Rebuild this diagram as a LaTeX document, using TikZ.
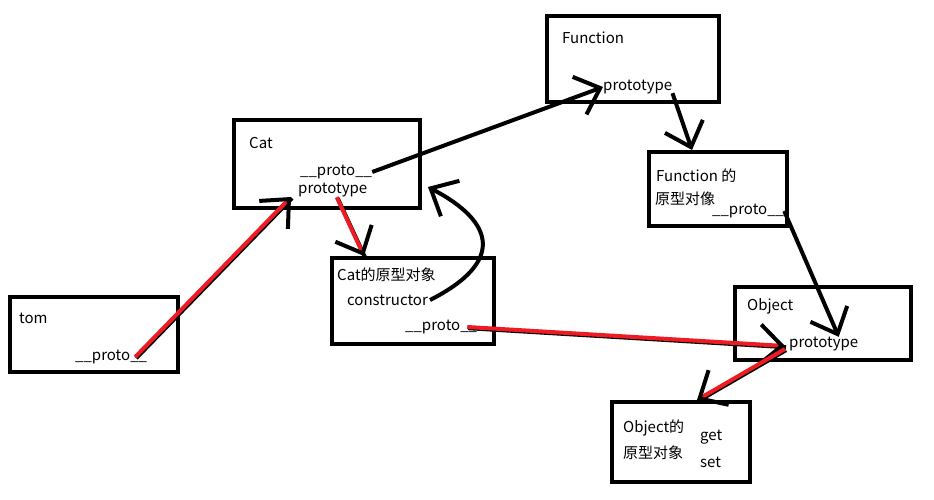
\documentclass[tikz,border=0pt]{standalone}
\usepackage{fontspec}
\setmainfont{Noto Sans CJK SC}
\usetikzlibrary{arrows.meta,positioning,calc}
\definecolor{paintred}{RGB}{237,28,36}
\begin{document}
\begin{tikzpicture}[x=1pt,y=-1pt,
box/.style={draw=black,line width=4pt,inner sep=0pt},
lbl/.style={anchor=west,inner sep=0pt,font=\fontsize{15}{17}\selectfont},
link/.style={line width=4pt,-{Straight Barb[length=22pt,width=40pt,line width=4pt,color=black]}},
redlink/.style={link,draw=paintred,preaction={draw=black,-,line width=4pt,transform canvas={xshift=1pt,yshift=-1.2pt}}}]
\useasboundingbox[fill=white] (0,0) rectangle (934,500);
% boxes
\node[box,minimum width=168pt,minimum height=75pt] (tombox) at (94,334.5) {};
\node[box,minimum width=186pt,minimum height=88pt] (catbox) at (327,164) {};
\node[box,minimum width=162pt,minimum height=86pt] (cpbox) at (413,301) {};
\node[box,minimum width=172pt,minimum height=86pt] (fnbox) at (633,59) {};
\node[box,minimum width=138pt,minimum height=74pt] (fpbox) at (718,189) {};
\node[box,minimum width=176pt,minimum height=73pt] (objbox) at (823,323.5) {};
\node[box,minimum width=138pt,minimum height=80pt] (opbox) at (681,442) {};
% texts
\node[lbl] (tomname) at (19,318) {tom};
\node[lbl] (tomproto) at (75,357) {\_\_proto\_\_};
\node[lbl] (catname) at (249,143) {Cat};
\node[lbl] (catproto) at (300,172) {\_\_proto\_\_};
\node[lbl] (catprototype) at (298,190) {prototype};
\node[lbl] (cpname) at (337,275) {Cat的原型对象};
\node[lbl] (cpcons) at (347,300) {constructor};
\node[lbl] (cpproto) at (405,327) {\_\_proto\_\_};
\node[lbl] (fnname) at (562,38) {Function};
\node[lbl] (fnprototype) at (603,87) {prototype};
\node[lbl] (fpname) at (656,176) {Function 的};
\node[lbl] (fpname2) at (655,199) {原型对像};
\node[lbl] (fpproto) at (712,211) {\_\_proto\_\_};
\node[lbl] (objname) at (747,306) {Object};
\node[lbl] (objprototype) at (789,344) {prototype};
\node[lbl] (opname) at (623,428) {Object的};
\node[lbl] (opname2) at (623,453) {原型对象};
\node[lbl] (opget) at (700,437) {get};
\node[lbl] (opset) at (700,462) {set};
% links
\draw[redlink] ([xshift=-12pt]tomproto.east) -- ([xshift=-7pt,yshift=-7pt]catprototype.west);
\draw[link] (catproto.east) -- (fnprototype.west);
\draw[redlink] ([xshift=4pt]catprototype.south) -- ([xshift=-49pt]cpbox.north);
\draw[link] ([xshift=2pt]cpcons.east) .. controls (505,262) and (495,222) .. ([xshift=6pt,yshift=-23pt]catbox.east);
\draw[redlink] ([xshift=-10pt]cpproto.east) -- ([xshift=-4pt,yshift=-2pt]objprototype.west);
\draw[link] ([yshift=1pt]fnprototype.south east) -- ([xshift=-26pt]fpbox.north);
\draw[link] (fpproto.east) -- ([xshift=15pt]objprototype.north);
\draw[redlink] ([xshift=-4pt,yshift=-5pt]objprototype.west) -- ([xshift=16pt]opbox.north);
\end{tikzpicture}
\end{document}
